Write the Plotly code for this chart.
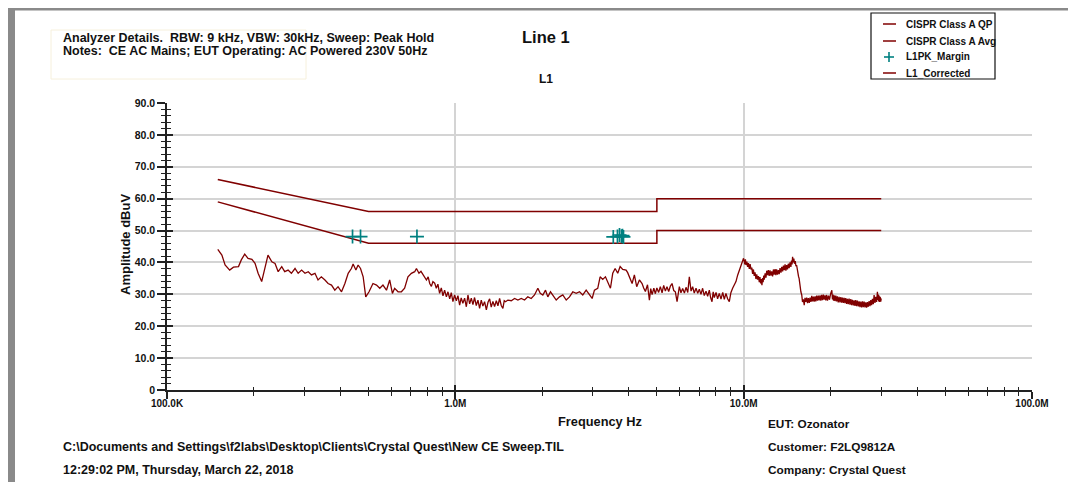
import plotly.graph_objects as go

# ---------------- data ----------------
qp_freq_mhz = [0.15, 0.5, 5.0, 5.0, 30.0]
qp_limit_dbuv = [66.0, 56.0, 56.0, 60.0, 60.0]

avg_freq_mhz = [0.15, 0.5, 5.0, 5.0, 30.0]
avg_limit_dbuv = [59.0, 46.0, 46.0, 50.0, 50.0]

margin_freq_mhz = [0.440, 0.469, 0.736, 3.53, 3.65, 3.71, 3.77, 3.80, 3.83]
margin_dbuv = [48.1, 48.1, 48.1, 48.0, 48.1, 48.6, 48.2, 48.4, 48.0]

corr_freq_mhz = [
    0.150, 0.155, 0.159, 0.165, 0.170, 0.177, 0.181, 0.186, 0.191, 0.197,
    0.202, 0.207, 0.213, 0.219, 0.224, 0.231, 0.237, 0.243, 0.250, 0.256,
    0.263, 0.270, 0.278, 0.285, 0.293, 0.301, 0.309, 0.317, 0.326, 0.334,
    0.343, 0.353, 0.362, 0.372, 0.382, 0.392, 0.403, 0.414, 0.425, 0.436,
    0.442, 0.452, 0.460, 0.469, 0.479, 0.489, 0.502, 0.518, 0.533, 0.547,
    0.561, 0.577, 0.592, 0.605, 0.616, 0.633, 0.650, 0.667, 0.685, 0.704,
    0.723, 0.733, 0.748, 0.760, 0.772, 0.783, 0.794, 0.805, 0.815, 0.826,
    0.836, 0.848,
    0.859, 0.870, 0.882, 0.894, 0.906, 0.918, 0.931, 0.943, 0.956, 0.968,
    0.981, 0.994, 1.008, 1.021, 1.035, 1.048, 1.062, 1.077, 1.092, 1.106,
    1.121, 1.136, 1.151, 1.166, 1.182, 1.198, 1.214, 1.230, 1.246, 1.263,
    1.281, 1.298, 1.315, 1.332, 1.350, 1.368, 1.387, 1.405, 1.424, 1.443,
    1.462, 1.478, 1.494,
    1.521, 1.563, 1.605, 1.648, 1.693, 1.738, 1.784, 1.833, 1.882, 1.933,
    1.970, 2.011, 2.055, 2.093, 2.138, 2.178, 2.238, 2.298, 2.359, 2.424,
    2.489, 2.555, 2.625, 2.696, 2.767, 2.843, 2.918, 2.982, 3.037, 3.118,
    3.178, 3.245, 3.316, 3.377, 3.451, 3.515, 3.583, 3.658, 3.729, 3.807,
    3.911, 3.960, 4.015, 4.103, 4.178, 4.256, 4.349, 4.443,
    4.50, 4.562, 4.64, 4.710, 4.76, 4.813, 4.88, 4.941, 5.00, 5.072,
    5.14, 5.212, 5.28, 5.351, 5.42, 5.494, 5.57, 5.644, 5.72, 5.795,
    5.875, 5.93, 5.983, 6.06, 6.143, 6.23, 6.311, 6.40, 6.479, 6.57,
    6.653, 6.74, 6.836, 6.93, 7.018, 7.11, 7.205, 7.30, 7.403, 7.50,
    7.601, 7.68, 7.766, 7.84, 7.910, 8.02, 8.121, 8.23, 8.345, 8.46,
    8.567, 8.68, 8.796, 8.916, 9.03, 9.155, 9.28, 9.404, 9.53, 9.656,
    9.76, 9.865, 9.99,
    10.03, 10.09, 10.14, 10.19, 10.26, 10.32, 10.39, 10.46, 10.53, 10.60,
    10.67, 10.74, 10.81, 10.88, 10.95, 11.03, 11.10, 11.18, 11.25, 11.33,
    11.39, 11.45, 11.51, 11.57, 11.63, 11.68, 11.74, 11.79, 11.87, 11.95,
    12.02, 12.10, 12.18, 12.26, 12.34, 12.43, 12.51, 12.60, 12.68, 12.76,
    12.85, 12.93, 13.01, 13.10, 13.19, 13.28, 13.37, 13.47, 13.56, 13.65,
    13.74, 13.83, 13.92, 14.01, 14.10, 14.19, 14.28, 14.38, 14.48, 14.58,
    14.65, 14.72, 14.78, 14.85, 14.93, 15.01, 15.10, 15.18, 15.26, 15.34,
    15.42, 15.50, 15.57, 15.65, 15.72, 15.79, 15.90, 16.00, 16.11, 16.22,
    16.32, 16.43, 16.54, 16.65, 16.76, 16.88, 16.99, 17.11, 17.22, 17.33,
    17.45, 17.56, 17.68, 17.79, 17.91, 18.03, 18.15, 18.27, 18.40, 18.52,
    18.65, 18.77, 18.90, 19.02, 19.15, 19.27, 19.40, 19.53, 19.69, 19.85,
    20.03, 20.22, 20.32, 20.41, 20.50, 20.60, 20.73, 20.87, 21.00, 21.14,
    21.28, 21.43, 21.58, 21.73, 21.87, 22.02, 22.16, 22.31, 22.45, 22.60,
    22.75, 22.90, 23.05, 23.21, 23.37, 23.53, 23.68, 23.84, 24.00, 24.16,
    24.32, 24.48, 24.64, 24.81, 24.98, 25.15, 25.32, 25.49, 25.66, 25.83,
    26.00, 26.17, 26.35, 26.52, 26.70, 26.87, 27.05, 27.23, 27.42, 27.60,
    27.78, 27.97, 28.15, 28.34, 28.53, 28.72, 28.91, 29.10, 29.20, 29.30,
    29.40, 29.49, 29.62, 29.75, 29.88, 30.00,
]

corr_dbuv = [
    44.1, 42.3, 39.2, 37.6, 38.5, 38.7, 40.8, 42.6, 41.3, 41.0,
    39.7, 36.6, 34.0, 38.1, 42.3, 40.2, 39.7, 37.1, 38.7, 37.1,
    37.6, 36.6, 38.1, 36.6, 37.6, 36.6, 37.1, 36.1, 36.6, 34.5,
    35.5, 34.5, 33.4, 32.9, 31.3, 32.4, 30.8, 33.4, 36.6, 38.1,
    39.5, 37.6, 39.2, 38.1, 35.5, 29.2, 30.8, 33.4, 32.9, 31.9,
    32.9, 31.3, 34.5, 30.3, 31.9, 30.8, 30.8, 31.9, 35.5, 36.6,
    37.1, 38.1, 36.6, 37.2, 36.1, 35.2, 34.5, 35.5, 33.4, 32.5,
    34.0, 33.5,
    31.9, 33.2, 30.3, 32.0, 29.5, 31.3, 29.2, 30.8, 28.6, 30.5,
    27.7, 29.8, 28.0, 29.6, 26.6, 28.9, 27.2, 28.8, 26.1, 29.8,
    27.0, 28.8, 26.8, 29.0, 26.5, 28.2, 25.6, 28.2, 26.3, 27.7,
    25.1, 27.5, 28.6, 26.0, 27.8, 26.2, 28.0, 26.4, 28.7, 26.5,
    25.6, 28.0, 27.7,
    28.2, 28.0, 28.7, 28.2, 28.7, 28.2, 29.2, 28.7, 29.8, 31.9,
    30.3, 29.8, 31.3, 29.2, 30.8, 29.8, 28.2, 29.2, 29.8, 28.2,
    29.2, 30.8, 30.3, 30.8, 29.8, 31.3, 29.8, 28.7, 31.3, 31.9,
    35.5, 34.7, 35.5, 34.0, 31.9, 36.6, 38.1, 36.6, 38.7, 37.8,
    37.6, 36.8, 35.5, 33.4, 36.1, 32.4, 34.5, 33.4,
    32.0, 30.9, 33.0, 28.2, 31.8, 29.9, 31.9, 30.2, 32.0, 30.6,
    32.4, 30.5, 32.8, 31.0, 32.4, 30.9, 32.6, 33.4, 31.2, 30.8,
    27.7, 31.2, 32.4, 30.5, 31.8, 30.4, 32.2, 30.6, 35.5, 31.0,
    32.4, 30.4, 31.9, 30.3, 31.6, 30.0, 31.9, 29.6, 31.0, 29.4,
    31.3, 29.0, 27.7, 30.8, 29.0, 30.6, 28.6, 30.3, 28.5, 30.6,
    28.4, 30.3, 28.6, 27.7, 30.5, 31.9, 33.0, 34.0, 36.0, 37.6,
    38.8, 39.7, 41.3,
    40.6, 39.4, 41.0, 39.2, 40.3, 38.6, 39.8, 38.0, 39.5, 37.8,
    38.4, 36.4, 37.8, 35.8, 36.9, 34.8, 36.3, 34.6, 35.7, 33.8,
    35.4, 33.4, 34.8, 32.9, 35.1, 33.8, 35.9, 34.6, 36.6, 35.2,
    37.4, 36.0, 37.6, 35.8, 37.5, 35.9, 37.2, 35.6, 37.8, 36.2,
    37.9, 36.0, 37.8, 36.2, 37.6, 36.3, 38.2, 36.8, 38.6, 37.2,
    39.0, 37.6, 39.4, 37.4, 39.2, 37.8, 39.6, 38.2, 40.0, 38.6,
    40.6, 39.4, 41.8, 40.0, 41.2, 39.6, 40.4, 38.8, 39.2, 37.4,
    37.6, 35.6, 35.0, 33.2, 32.5, 30.8, 29.8, 27.6, 28.4, 26.6,
    28.9, 27.6, 29.0, 27.2, 28.8, 27.3, 29.0, 27.6, 29.5, 27.8,
    29.3, 27.7, 29.4, 27.8, 29.6, 28.0, 29.6, 28.1, 29.7, 28.0,
    29.8, 28.2, 29.9, 28.3, 29.7, 28.1, 29.8, 28.0, 29.6, 28.3,
    30.2, 31.3, 28.4, 29.9, 28.0, 29.7, 27.9, 29.6, 27.8, 29.4,
    27.5, 29.2, 27.5, 29.1, 27.4, 29.0, 27.3, 28.9, 27.2, 28.8,
    27.0, 28.6, 26.9, 28.7, 26.8, 28.5, 26.6, 28.3, 26.5, 28.1,
    26.4, 28.2, 26.3, 28.0, 26.2, 27.8, 26.0, 27.7, 25.9, 27.8,
    26.0, 27.7, 25.9, 27.5, 25.8, 27.6, 26.1, 27.9, 26.3, 28.2,
    26.6, 28.6, 26.9, 29.8, 27.3, 29.2, 27.6, 30.8, 28.2, 29.9,
    27.8, 29.6, 27.6, 29.2, 27.7, 28.7,
]

x_tick_vals_hz = [1e5, 1e6, 1e7, 1e8]
x_tick_text = ["100.0K", "1.0M", "10.0M", "100.0M"]
y_tick_vals = [0, 10, 20, 30, 40, 50, 60, 70, 80, 90]
y_tick_text = ["0", "10.0", "20.0", "30.0", "40.0", "50.0", "60.0", "70.0", "80.0", "90.0"]

legend_names = ["CISPR Class A QP", "CISPR Class A Avg", "L1PK_Margin", "L1_Corrected"]

# ---------------- figure ----------------
# The page body has an 8px margin, so the figure is 8px smaller than the window.
OFF = 8
SCREEN_W, SCREEN_H = 1076, 482
W, H = SCREEN_W - OFF, SCREEN_H - OFF
PLOT_LEFT, PLOT_RIGHT, PLOT_TOP, PLOT_BOTTOM = 167, 1032, 103, 390  # screen px
L, R = PLOT_LEFT - OFF, SCREEN_W - PLOT_RIGHT
T, B = PLOT_TOP - OFF, SCREEN_H - PLOT_BOTTOM
PW, PH = PLOT_RIGHT - PLOT_LEFT, PLOT_BOTTOM - PLOT_TOP


def px(xs):
    return (xs - PLOT_LEFT) / PW


def py(ys):
    return (PLOT_BOTTOM - ys) / PH


MAROON = "#800000"
TEAL = "#008080"
FONT = "Arial, Liberation Sans, sans-serif"
INK = "#111111"

to_hz = lambda arr: [v * 1e6 for v in arr]

fig = go.Figure()
fig.add_trace(go.Scatter(x=to_hz(qp_freq_mhz), y=qp_limit_dbuv, mode="lines",
                         name=legend_names[0], line=dict(color=MAROON, width=1.5)))
fig.add_trace(go.Scatter(x=to_hz(avg_freq_mhz), y=avg_limit_dbuv, mode="lines",
                         name=legend_names[1], line=dict(color=MAROON, width=1.5)))
fig.add_trace(go.Scatter(x=to_hz(margin_freq_mhz), y=margin_dbuv, mode="markers",
                         name=legend_names[2], xaxis="x2", yaxis="y2",
                         marker=dict(symbol="cross-thin", size=10, color=TEAL,
                                     line=dict(color=TEAL, width=1.7))))
fig.add_trace(go.Scatter(x=to_hz(corr_freq_mhz), y=corr_dbuv, mode="lines",
                         name=legend_names[3], line=dict(color=MAROON, width=1.3)))

ytickfont = dict(family=FONT, size=10.5, color=INK, weight="bold")
xtickfont = dict(family=FONT, size=10, color=INK, weight="bold")

fig.update_layout(
    width=W, height=H,
    margin=dict(l=L, r=R, t=T, b=B, autoexpand=False),
    paper_bgcolor="white", plot_bgcolor="white",
    hovermode=False, showlegend=False,
    font=dict(family=FONT, color=INK),
    xaxis=dict(type="log", range=[5, 8], tickmode="array",
               tickvals=x_tick_vals_hz, ticktext=x_tick_text,
               tickfont=xtickfont, ticks="outside", ticklen=7, tickwidth=1.5,
               ticklabelstandoff=-4,
               tickcolor="#222", showline=True, linecolor="#222", linewidth=1.5,
               showgrid=True, gridcolor="#d4d4d4", gridwidth=1.5, zeroline=False,
               minor=dict(dtick="D1", ticks="outside", ticklen=4, tickwidth=1.2,
                          tickcolor="#222", showgrid=False)),
    yaxis=dict(range=[0, 90], tickmode="array", tickvals=y_tick_vals, ticktext=y_tick_text,
               tickfont=ytickfont, ticks="outside", ticklen=8, tickwidth=1.5,
               tickcolor="#222", showline=True, linecolor="#222", linewidth=1.5,
               showgrid=True, gridcolor="#d4d4d4", gridwidth=1.5, zeroline=False,
               minor=dict(dtick=2, ticks="outside", ticklen=4, tickwidth=1.2,
                          tickcolor="#222", showgrid=False)),
    xaxis2=dict(type="log", range=[5, 8], overlaying="x", anchor="y2",
                tickmode="array", tickvals=x_tick_vals_hz, showticklabels=False,
                ticks="inside", ticklen=5, tickwidth=1.5, tickcolor="#222",
                showgrid=False, showline=False, zeroline=False,
                minor=dict(dtick="D1", ticks="inside", ticklen=3, tickwidth=1.2,
                           tickcolor="#222", showgrid=False)),
    yaxis2=dict(range=[0, 90], overlaying="y", anchor="x2",
                tickmode="array", tickvals=y_tick_vals, showticklabels=False,
                ticks="inside", ticklen=6, tickwidth=1.5, tickcolor="#222",
                showgrid=False, showline=False, zeroline=False,
                minor=dict(dtick=2, ticks="inside", ticklen=4, tickwidth=1.2,
                           tickcolor="#222", showgrid=False)),
)

# frame decoration and legend box
shapes = [
    dict(type="rect", xref="paper", yref="paper", x0=px(OFF), x1=px(15), y0=py(SCREEN_H), y1=py(OFF),
         fillcolor="#8a8a8a", line=dict(width=0), layer="below"),
    dict(type="rect", xref="paper", yref="paper", x0=px(OFF), x1=px(SCREEN_W), y0=py(10.5), y1=py(OFF),
         fillcolor="#8a8a8a", line=dict(width=0), layer="below"),
    dict(type="rect", xref="paper", yref="paper", x0=px(51), x1=px(306), y0=py(79), y1=py(30),
         line=dict(color="#f6f0dc", width=1), fillcolor="rgba(0,0,0,0)"),
    # legend box
    dict(type="rect", xref="paper", yref="paper", x0=px(871), x1=px(995), y0=py(79), y1=py(13),
         line=dict(color=INK, width=1.2), fillcolor="white"),
]
legend_rows = [24, 41, 57, 73]
for i, yrow in enumerate(legend_rows):
    if i == 2:
        shapes.append(dict(type="line", xref="paper", yref="paper", x0=px(884), x1=px(894),
                           y0=py(yrow), y1=py(yrow), line=dict(color=TEAL, width=1.6)))
        shapes.append(dict(type="line", xref="paper", yref="paper", x0=px(889), x1=px(889),
                           y0=py(yrow - 5), y1=py(yrow + 5), line=dict(color=TEAL, width=1.6)))
    else:
        shapes.append(dict(type="line", xref="paper", yref="paper", x0=px(883), x1=px(896),
                           y0=py(yrow), y1=py(yrow), line=dict(color=MAROON, width=1.5)))
fig.update_layout(shapes=shapes)


def note(text, xs, ys, size=12.5, anchor="left", angle=0):
    fig.add_annotation(text=text, x=px(xs), y=py(ys), xref="paper", yref="paper",
                       xanchor=anchor, yanchor="middle", showarrow=False, textangle=angle,
                       font=dict(family=FONT, size=size, color=INK, weight="bold"))


for name, yrow in zip(legend_names, legend_rows):
    note(name, 904, yrow, size=10)

note("Analyzer Details.  RBW: 9 kHz, VBW: 30kHz, Sweep: Peak Hold", 61, 38)
note("Notes:  CE AC Mains; EUT Operating: AC Powered 230V 50Hz", 61, 51)
note("Line 1", 546, 37, size=16.5, anchor="center")
note("L1", 546, 79, size=12, anchor="center")
note("Amplitude dBuV", 125, 245, size=13, anchor="center", angle=-90)
note("Frequency Hz", 600, 421, size=12.8, anchor="center")
note("EUT: Ozonator", 766, 424, size=11.8)
note("C:\\Documents and Settings\\f2labs\\Desktop\\Clients\\Crystal Quest\\New CE Sweep.TIL", 61, 447)
note("Customer: F2LQ9812A", 766, 447, size=11.8)
note("12:29:02 PM, Thursday, March 22, 2018", 61, 470)
note("Company: Crystal Quest", 766, 470, size=11.8)

fig.write_html("out.html")
